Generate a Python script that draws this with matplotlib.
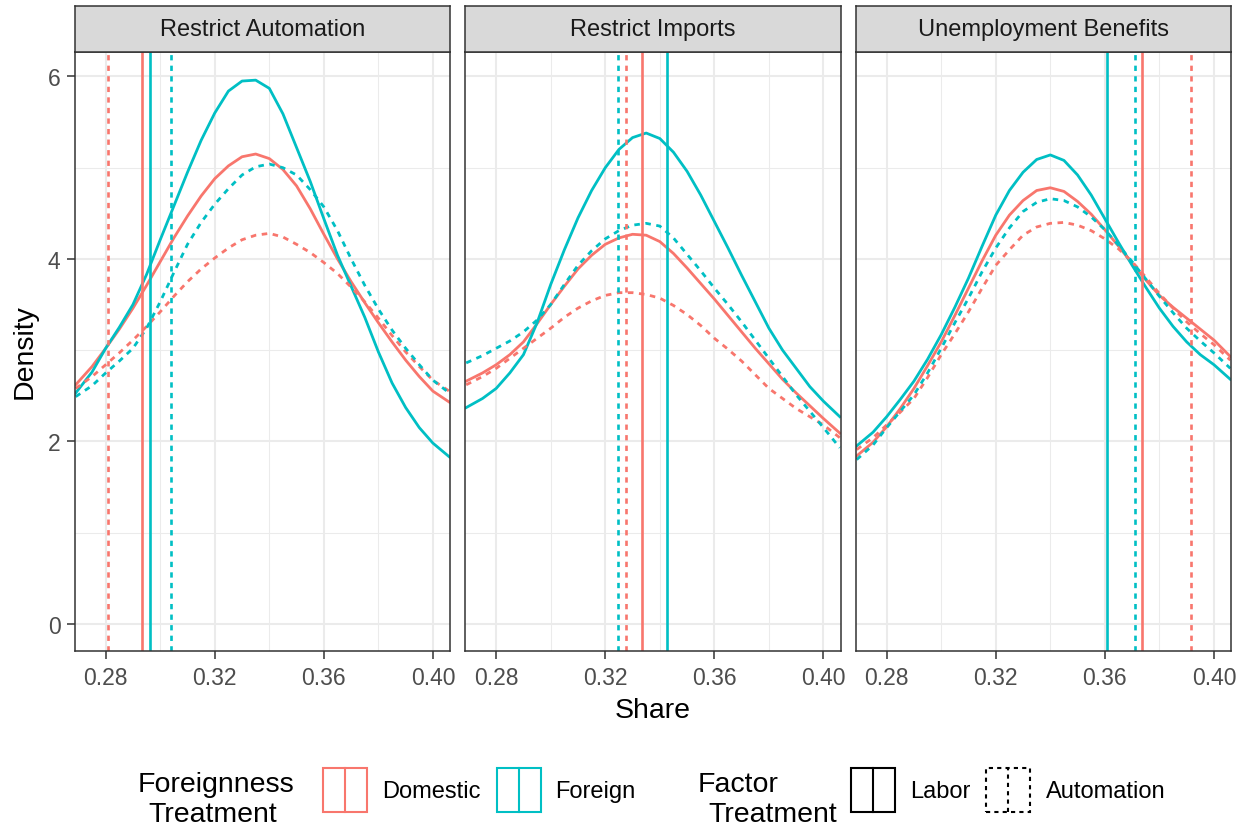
import matplotlib
matplotlib.use("Agg")
import matplotlib.pyplot as plt
from matplotlib.patches import Rectangle
from matplotlib.lines import Line2D
from matplotlib.legend_handler import HandlerBase

plt.rcParams['font.family'] = ['Liberation Sans', 'DejaVu Sans']

# share values where the density curves were read
share = [0.269, 0.275, 0.28, 0.285, 0.29, 0.295, 0.30, 0.305, 0.31, 0.315, 0.32, 0.325, 0.33, 0.335,
         0.34, 0.345, 0.35, 0.355, 0.36, 0.365, 0.37, 0.375, 0.38, 0.385, 0.39, 0.395, 0.40, 0.406]

# Restrict Automation
ra_dom_labor = [2.62, 2.82, 3.02, 3.23, 3.46, 3.71, 3.97, 4.23, 4.47, 4.69, 4.88, 5.02, 5.12, 5.15,
                5.10, 4.98, 4.80, 4.55, 4.27, 4.00, 3.75, 3.52, 3.30, 3.09, 2.89, 2.71, 2.55, 2.43]
ra_for_labor = [2.53, 2.76, 3.02, 3.25, 3.50, 3.83, 4.21, 4.58, 4.95, 5.30, 5.60, 5.84, 5.95, 5.96,
                5.87, 5.59, 5.22, 4.85, 4.44, 4.04, 3.70, 3.36, 2.98, 2.64, 2.37, 2.15, 1.98, 1.83]
ra_dom_auto = [2.58, 2.71, 2.84, 2.97, 3.11, 3.26, 3.42, 3.59, 3.75, 3.89, 4.01, 4.12, 4.21, 4.26,
               4.28, 4.24, 4.16, 4.07, 3.96, 3.84, 3.69, 3.53, 3.35, 3.16, 2.98, 2.82, 2.67, 2.55]
ra_for_auto = [2.49, 2.61, 2.75, 2.88, 3.02, 3.24, 3.53, 3.85, 4.16, 4.40, 4.60, 4.77, 4.92, 5.01,
               5.04, 5.00, 4.92, 4.76, 4.57, 4.31, 4.00, 3.71, 3.45, 3.22, 3.02, 2.84, 2.67, 2.53]

# Restrict Imports
ri_dom_labor = [2.66, 2.75, 2.84, 2.95, 3.09, 3.29, 3.50, 3.70, 3.89, 4.04, 4.16, 4.23, 4.27, 4.26,
                4.19, 4.06, 3.90, 3.73, 3.56, 3.38, 3.20, 3.02, 2.85, 2.68, 2.53, 2.39, 2.25, 2.09]
ri_for_labor = [2.37, 2.47, 2.58, 2.75, 2.95, 3.30, 3.72, 4.10, 4.45, 4.75, 5.00, 5.20, 5.33, 5.38,
                5.32, 5.17, 4.96, 4.70, 4.41, 4.12, 3.82, 3.53, 3.24, 3.00, 2.80, 2.60, 2.44, 2.27]
ri_dom_auto = [2.62, 2.71, 2.80, 2.91, 3.02, 3.13, 3.24, 3.36, 3.46, 3.54, 3.60, 3.63, 3.63, 3.61,
               3.57, 3.49, 3.39, 3.27, 3.13, 3.01, 2.88, 2.73, 2.58, 2.47, 2.36, 2.27, 2.18, 2.04]
ri_for_auto = [2.86, 2.94, 3.02, 3.10, 3.20, 3.33, 3.50, 3.72, 3.93, 4.09, 4.22, 4.31, 4.37, 4.39,
               4.36, 4.23, 4.05, 3.87, 3.68, 3.50, 3.31, 3.11, 2.91, 2.71, 2.51, 2.33, 2.15, 1.93]

# Unemployment Benefits
ub_dom_labor = [1.84, 1.99, 2.16, 2.36, 2.58, 2.83, 3.09, 3.38, 3.68, 3.98, 4.26, 4.48, 4.64, 4.75,
                4.78, 4.74, 4.63, 4.49, 4.32, 4.14, 3.95, 3.77, 3.60, 3.47, 3.35, 3.23, 3.11, 2.93]
ub_for_labor = [1.95, 2.10, 2.27, 2.46, 2.66, 2.90, 3.17, 3.47, 3.79, 4.14, 4.48, 4.75, 4.95, 5.09,
                5.14, 5.08, 4.92, 4.70, 4.44, 4.18, 3.93, 3.69, 3.46, 3.26, 3.09, 2.95, 2.84, 2.68]
ub_dom_auto = [1.91, 2.04, 2.18, 2.32, 2.47, 2.70, 2.95, 3.18, 3.42, 3.68, 3.93, 4.10, 4.26, 4.35,
               4.39, 4.40, 4.37, 4.31, 4.22, 4.11, 3.97, 3.80, 3.62, 3.46, 3.31, 3.18, 3.06, 2.89]
ub_for_auto = [1.80, 1.96, 2.15, 2.33, 2.51, 2.75, 3.02, 3.30, 3.57, 3.86, 4.12, 4.34, 4.52, 4.62,
               4.66, 4.64, 4.57, 4.46, 4.32, 4.15, 3.97, 3.78, 3.59, 3.41, 3.24, 3.10, 2.97, 2.80]

# mean lines per facet: domestic-labor, foreign-labor, domestic-automation, foreign-automation
ra_means = [0.2932, 0.2962, 0.2809, 0.3040]
ri_means = [0.3333, 0.3427, 0.3276, 0.3248]
ub_means = [0.3735, 0.3606, 0.3916, 0.3710]

facets = ["Restrict Automation", "Restrict Imports", "Unemployment Benefits"]
foreign_levels = ["Domestic", "Foreign"]
factor_levels = ["Labor", "Automation"]

curves = [
    [ra_dom_labor, ra_for_labor, ra_dom_auto, ra_for_auto],
    [ri_dom_labor, ri_for_labor, ri_dom_auto, ri_for_auto],
    [ub_dom_labor, ub_for_labor, ub_dom_auto, ub_for_auto],
]
means = [ra_means, ri_means, ub_means]

cols = {"Domestic": "#F8766D", "Foreign": "#00BFC4"}
dash = (0, (2.0, 2.0))
styles = {"Labor": "-", "Automation": dash}
groups = [("Domestic", "Labor"), ("Foreign", "Labor"), ("Domestic", "Automation"), ("Foreign", "Automation")]

W, H = 1247, 829
fig = plt.figure(figsize=(W / 100, H / 100), dpi=100)

lefts = [75, 465.5, 856]
pw = 375
top, bot = 53, 652
strip_top = 7

for i, name in enumerate(facets):
    ax = fig.add_axes([lefts[i] / W, 1 - bot / H, pw / W, (bot - top) / H])
    ax.set_xlim(0.26875, 0.40625)
    ax.set_ylim(-0.2985, 6.2685)
    ax.set_xticks([0.28, 0.32, 0.36, 0.40])
    ax.set_xticklabels(["0.28", "0.32", "0.36", "0.40"])
    ax.set_xticks([0.30, 0.34, 0.38], minor=True)
    ax.set_yticks([0, 2, 4, 6])
    ax.set_yticks([1, 3, 5], minor=True)
    ax.grid(which='major', color='#EBEBEB', lw=1.5)
    ax.grid(which='minor', color='#EBEBEB', lw=0.75)
    ax.set_axisbelow(True)
    ax.tick_params(which='major', length=6, width=1.1, color='#333333',
                   labelsize=16.5, labelcolor='#4D4D4D', pad=4.5)
    ax.tick_params(which='minor', length=0)
    if i > 0:
        ax.set_yticklabels([])
        ax.tick_params(axis='y', which='major', length=0)
    for s in ax.spines.values():
        s.set_color('#333333')
        s.set_linewidth(1.1)

    for (fo, fa), ys in zip(groups, curves[i]):
        ax.plot(share, ys, color=cols[fo], ls=styles[fa], lw=2.0)
    for (fo, fa), m in zip(groups, means[i]):
        ax.axvline(m, color=cols[fo], ls=styles[fa], lw=1.9)

    sax = fig.add_axes([lefts[i] / W, 1 - top / H, pw / W, (top - strip_top) / H])
    sax.set_facecolor('#D9D9D9')
    sax.set_xticks([])
    sax.set_yticks([])
    for s in sax.spines.values():
        s.set_color('#333333')
        s.set_linewidth(1.1)
    sax.text(0.5, 0.5, name, ha='center', va='center', fontsize=17,
             color='#1A1A1A', transform=sax.transAxes)

fig.text(25 / W, 1 - 352 / H, "Density", rotation=90, ha='center', va='center', fontsize=20.5)
fig.text(653 / W, 1 - 718 / H, "Share", ha='center', va='baseline', fontsize=20.5)


class BoxKey(HandlerBase):
    def __init__(self, ls):
        super().__init__()
        self.ls = ls

    def create_artists(self, legend, orig_handle, xdescent, ydescent, width, height, fontsize, trans):
        c = orig_handle.get_color()
        rect = Rectangle((-xdescent, -ydescent), width, height, fill=False,
                         edgecolor=c, lw=1.5, ls=self.ls, transform=trans)
        mid = Line2D([-xdescent + width / 2] * 2, [-ydescent, -ydescent + height],
                     color=c, lw=1.5, ls=self.ls, transform=trans)
        return [rect, mid]


h1 = [Line2D([], [], color=cols[f]) for f in foreign_levels]
h2 = [Line2D([], [], color='black') for f in factor_levels]
leg_kw = dict(frameon=False, ncol=2, fontsize=17, handlelength=1.86, handleheight=2.49,
              handletextpad=0.64, columnspacing=0.68, borderpad=0, borderaxespad=0,
              loc='center left')
fig.legend(h1, foreign_levels, bbox_to_anchor=(323 / W, 1 - 791 / H),
           handler_map={h: BoxKey('-') for h in h1}, **leg_kw)
fig.legend(h2, factor_levels, bbox_to_anchor=(851 / W, 1 - 791 / H),
           handler_map={h2[0]: BoxKey('-'), h2[1]: BoxKey((0, (2.0, 2.0)))}, **leg_kw)

fig.text(138 / W, 1 - 791.7 / H, "Foreignness", fontsize=20.5, va='baseline')
fig.text(148 / W, 1 - 821.7 / H, "Treatment", fontsize=20.5, va='baseline')
fig.text(698 / W, 1 - 791.7 / H, "Factor", fontsize=20.5, va='baseline')
fig.text(708 / W, 1 - 821.7 / H, "Treatment", fontsize=20.5, va='baseline')

fig.savefig("out.png", dpi=100)
